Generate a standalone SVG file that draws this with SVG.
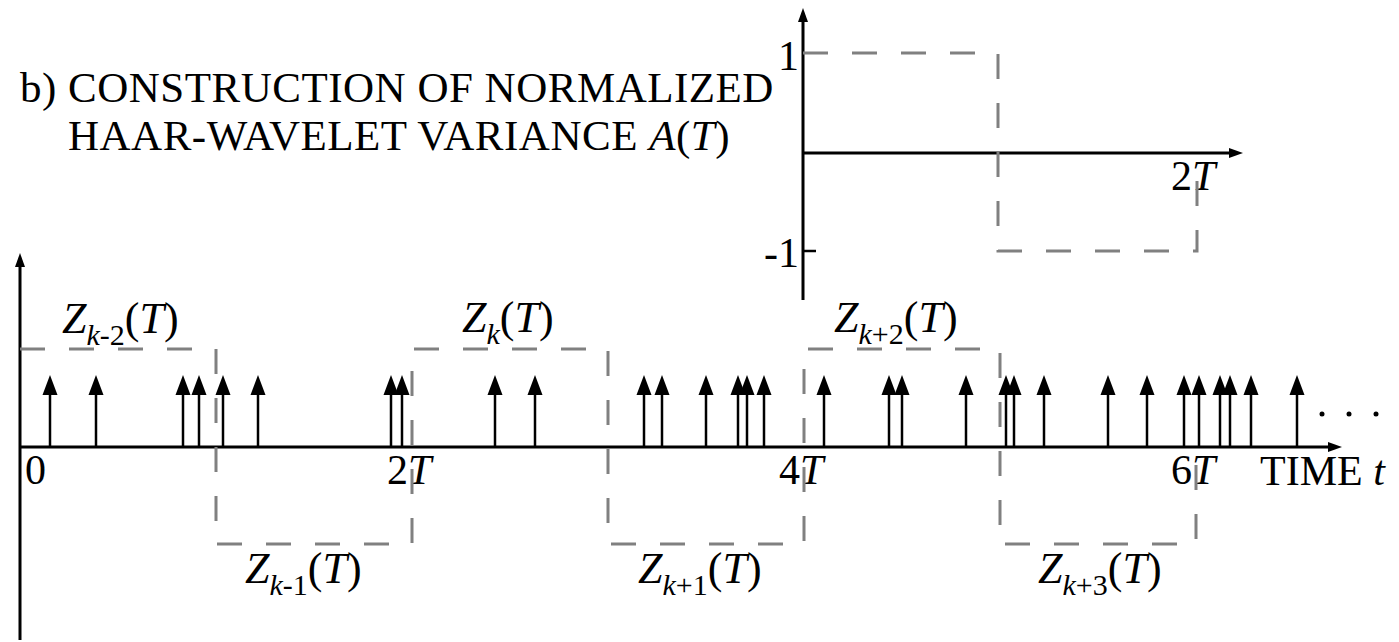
<svg xmlns="http://www.w3.org/2000/svg" width="1399" height="642" viewBox="0 0 1399 642">
<style>
  text { font-family: "Liberation Serif", "Times New Roman", serif; fill: #000; }
  .title { font-size: 43px; letter-spacing: 0.5px; }
  .lab { font-size: 42px; }
  .z { font-size: 44px; }
  .sub { font-size: 30px; }
  .it { font-style: italic; }
  .axis { stroke: #000; stroke-width: 3; fill: none; }
  .stem { stroke: #000; stroke-width: 2.5; fill: none; }
  .dash { stroke: #808080; stroke-width: 3; fill: none; stroke-dasharray: 25 24; }
  .head { fill: #000; }
</style>
<defs>
  <g id="imp">
    <line class="stem" x1="0" y1="447" x2="0" y2="392"/>
    <polygon class="head" points="0,375 -7.5,395 7.5,395"/>
  </g>
</defs>
<rect width="1399" height="642" fill="#fff"/>

<g id="title">
  <text class="title" x="20" y="102">b) CONSTRUCTION OF NORMALIZED</text>
  <text class="title" x="68" y="150">HAAR-WAVELET VARIANCE <tspan class="it">A</tspan>(<tspan class="it">T</tspan>)</text>
</g>

<g id="haar-plot">
  <g id="haar-axes">
    <line class="axis" x1="803" y1="300" x2="803" y2="20"/>
    <polygon class="head" points="803,8 798,22 808,22"/>
    <line class="axis" x1="803" y1="153" x2="1231" y2="153"/>
    <polygon class="head" points="1243,153 1229,148 1229,158"/>
    <line class="stem" x1="803" y1="251" x2="816" y2="251"/>
  </g>
  <g id="haar-labels">
    <text class="lab" x="799" y="70" text-anchor="end">1</text>
    <text class="lab" x="799" y="267" text-anchor="end">-1</text>
    <text class="lab" x="1171" y="190">2<tspan class="it">T</tspan></text>
  </g>
  <path id="haar-wave" class="dash" d="M803,53 H998 V251 H1197 V179"/>
</g>

<g id="main-axes">
  <line class="axis" x1="20" y1="640" x2="20" y2="265"/>
  <polygon class="head" points="20,253 15,267 25,267"/>
  <line class="axis" x1="20" y1="447" x2="1330" y2="447"/>
  <polygon class="head" points="1342,447 1328,442 1328,452"/>
</g>

<g id="axis-labels">
  <text class="lab" x="25" y="484">0</text>
  <text class="lab" x="387" y="484">2<tspan class="it">T</tspan></text>
  <text class="lab" x="779" y="484">4<tspan class="it">T</tspan></text>
  <text class="lab" x="1171" y="484">6<tspan class="it">T</tspan></text>
  <text class="lab" x="1260" y="485">TIME <tspan class="it">t</tspan></text>
</g>

<g id="z-labels">
  <text class="z" x="62" y="333"><tspan class="it">Z</tspan><tspan class="sub" dy="12"><tspan class="it">k</tspan>-2</tspan><tspan dy="-12">(</tspan><tspan class="it">T</tspan>)</text>
  <text class="z" x="462" y="332"><tspan class="it">Z</tspan><tspan class="sub it" dy="12">k</tspan><tspan dy="-12">(</tspan><tspan class="it">T</tspan>)</text>
  <text class="z" x="834" y="332"><tspan class="it">Z</tspan><tspan class="sub" dy="12"><tspan class="it">k</tspan>+2</tspan><tspan dy="-12">(</tspan><tspan class="it">T</tspan>)</text>
  <text class="z" x="245" y="583"><tspan class="it">Z</tspan><tspan class="sub" dy="12"><tspan class="it">k</tspan>-1</tspan><tspan dy="-12">(</tspan><tspan class="it">T</tspan>)</text>
  <text class="z" x="638" y="583"><tspan class="it">Z</tspan><tspan class="sub" dy="12"><tspan class="it">k</tspan>+1</tspan><tspan dy="-12">(</tspan><tspan class="it">T</tspan>)</text>
  <text class="z" x="1038" y="583"><tspan class="it">Z</tspan><tspan class="sub" dy="12"><tspan class="it">k</tspan>+3</tspan><tspan dy="-12">(</tspan><tspan class="it">T</tspan>)</text>
</g>

<g id="connectors">
  <path id="z-wave" class="dash" d="M20,349 H216 V544 H412 V349 H608 V544 H804 V349 H1000 V544 H1196 V447"/>
</g>

<g id="impulses">
  <use href="#imp" x="50"/><use href="#imp" x="96"/><use href="#imp" x="183"/><use href="#imp" x="199"/>
  <use href="#imp" x="223"/><use href="#imp" x="258"/><use href="#imp" x="391"/><use href="#imp" x="402"/>
  <use href="#imp" x="495"/><use href="#imp" x="535"/><use href="#imp" x="644"/><use href="#imp" x="662"/>
  <use href="#imp" x="706"/><use href="#imp" x="738"/><use href="#imp" x="747"/><use href="#imp" x="764"/>
  <use href="#imp" x="824"/><use href="#imp" x="889"/><use href="#imp" x="902"/><use href="#imp" x="966"/>
  <use href="#imp" x="1006"/><use href="#imp" x="1014"/><use href="#imp" x="1044"/><use href="#imp" x="1108"/>
  <use href="#imp" x="1147"/><use href="#imp" x="1184"/><use href="#imp" x="1199"/><use href="#imp" x="1220"/>
  <use href="#imp" x="1230"/><use href="#imp" x="1251"/><use href="#imp" x="1297"/>
</g>

<g id="ellipsis">
  <circle cx="1322" cy="414" r="2.5"/>
  <circle cx="1349" cy="414" r="2.5"/>
  <circle cx="1376" cy="414" r="2.5"/>
</g>
</svg>
